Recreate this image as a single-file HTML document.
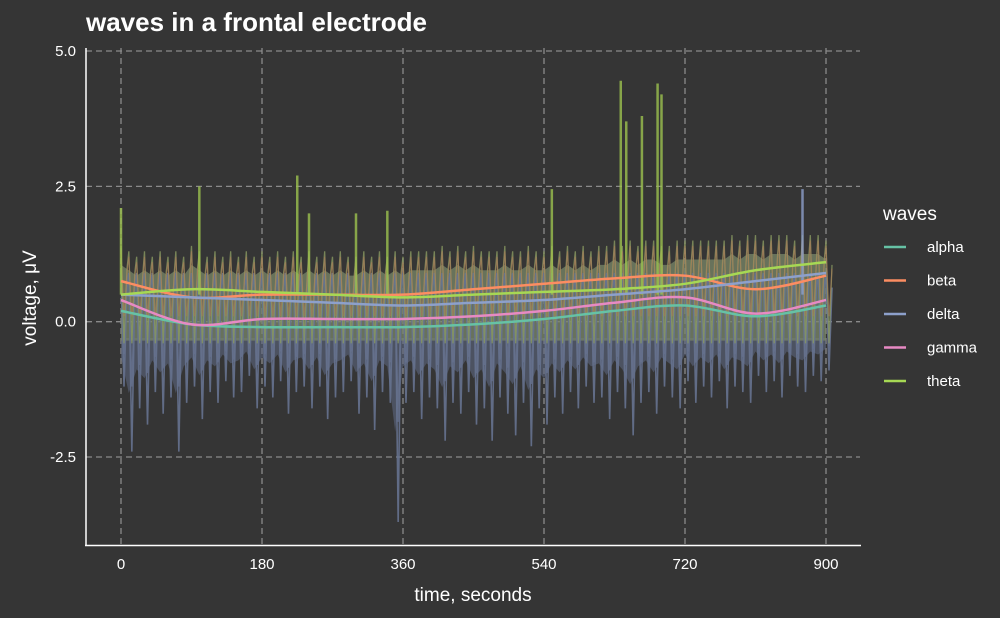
<!DOCTYPE html>
<html><head><meta charset="utf-8"><style>
html,body{margin:0;padding:0;background:#353535;}
svg{display:block;font-family:"Liberation Sans",sans-serif;}
</style></head><body>
<svg id="chart" width="1000" height="618" viewBox="0 0 1000 618">
<rect width="1000" height="618" fill="#353535"/>
<text x="86" y="31" fill="#fff" font-size="26" font-weight="bold">waves in a frontal electrode</text>
<g id="grid"></g><g id="noise"></g><g id="spikes"></g><g id="lines"></g><g id="axes"></g>
<text x="473" y="601" fill="#fff" font-size="19" text-anchor="middle">time, seconds</text>
<text transform="translate(36,298) rotate(-90)" fill="#fff" font-size="19" text-anchor="middle">voltage, μV</text>
<g id="legend">
<text x="883" y="220" fill="#fff" font-size="19">waves</text>
</g>
</svg>
<script>
const xTicks=[0,180,360,540,720,900];
const yTicks=[-2.5,0,2.5,5];
const yTickLabels=["-2.5","0.0","2.5","5.0"];
const series=["alpha","beta","delta","gamma","theta"];
const colors=["#66c2a5","#fc8d62","#8da0cb","#e78ac3","#a6d854"];
const smoothT=[0,90,180,270,360,450,540,630,720,810,900];
const alphaV=[0.2,-0.05,-0.1,-0.1,-0.1,-0.05,0.05,0.2,0.3,0.1,0.3];
const betaV=[0.75,0.45,0.5,0.5,0.5,0.6,0.7,0.8,0.85,0.6,0.85];
const deltaV=[0.5,0.45,0.4,0.35,0.3,0.35,0.4,0.5,0.6,0.75,0.9];
const gammaV=[0.4,-0.05,0.05,0.05,0.05,0.1,0.2,0.35,0.45,0.15,0.4];
const thetaV=[0.5,0.6,0.55,0.5,0.45,0.5,0.55,0.6,0.7,0.95,1.1];
const allSmooth=[alphaV,betaV,deltaV,gammaV,thetaV];
const noiseT=[];for(let t=0;t<=900;t+=10)noiseT.push(t);
const noiseHi=[1.4,1.3,1.2,1.3,1.2,1.3,1.2,1.3,1.2,1.4,1.3,1.2,1.3,1.2,1.3,1.2,1.3,1.2,1.3,1.2,1.3,1.2,1.3,1.2,1.3,1.2,1.3,1.2,1.3,1.2,1.2,1.3,1.2,1.3,1.2,1.3,1.2,1.3,1.3,1.3,1.3,1.4,1.3,1.4,1.3,1.4,1.3,1.3,1.3,1.4,1.3,1.3,1.4,1.3,1.3,1.4,1.3,1.4,1.3,1.4,1.3,1.4,1.4,1.5,1.4,1.5,1.4,1.5,1.5,1.4,1.4,1.5,1.5,1.5,1.5,1.5,1.5,1.5,1.6,1.5,1.6,1.6,1.5,1.6,1.6,1.6,1.5,1.6,1.6,1.6,1.5];
const noiseLo=[-1.2,-2.4,-1.6,-1.9,-1.3,-1.7,-1.4,-2.4,-1.5,-1.2,-1.8,-1.3,-1.5,-1.1,-1.4,-1.3,-1.0,-1.6,-1.2,-1.4,-1.1,-1.7,-1.3,-1.2,-1.6,-1.2,-1.8,-1.4,-1.3,-1.1,-1.7,-1.4,-2.0,-1.3,-1.5,-3.7,-1.5,-1.3,-1.8,-1.4,-1.6,-2.2,-1.5,-1.7,-1.3,-1.9,-1.6,-2.2,-1.4,-1.7,-2.1,-1.5,-2.3,-1.6,-1.9,-1.4,-1.7,-1.3,-1.6,-1.2,-1.5,-1.4,-1.8,-1.3,-1.6,-2.1,-1.5,-1.3,-1.7,-1.2,-1.4,-1.6,-1.1,-1.5,-1.2,-1.4,-1.1,-1.6,-1.2,-1.3,-1.5,-1.0,-1.3,-1.1,-1.4,-1.0,-1.2,-1.3,-1.0,-1.1,-0.9];
const spikeT=[0,100,225,240,300,340,550,638,645,665,685,690,870];
const spikeV=[2.1,2.5,2.7,2.0,2.0,2.05,2.45,4.45,3.7,3.8,4.4,4.2,2.45];
const X=t=>121+t*(705/900);
const Y=v=>321.7-v*(406/7.5);
const NS="http://www.w3.org/2000/svg";
function mk(tag,attrs,parent){const e=document.createElementNS(NS,tag);for(const k in attrs)e.setAttribute(k,attrs[k]);parent.appendChild(e);return e;}
const grid=document.getElementById('grid');
xTicks.forEach(t=>{const l=mk('line',{x1:X(t),x2:X(t),y1:48,y2:545,stroke:'#8a8a8a','stroke-dasharray':'6,4','stroke-width':1.3},grid);

});
yTicks.forEach(v=>{const l=mk('line',{x1:86,x2:860,y1:Y(v),y2:Y(v),stroke:'#8a8a8a','stroke-dasharray':'6,4','stroke-width':1.3},grid);

});
const noise=document.getElementById('noise');
let deltaTop='',deltaBot='';
noiseT.forEach((t,i)=>{deltaTop+=X(t)+','+Y(-0.3)+' ';});
for(let i=noiseT.length-1;i>=0;i--){deltaBot+=X(noiseT[i])+','+Y(noiseLo[i]*0.55)+' ';}
const dband=mk('polygon',{points:deltaTop+deltaBot,fill:'#5f6a85',opacity:0.55},noise);


let bandTop='',bandBot='';
noiseT.forEach((t,i)=>{bandTop+=X(t)+','+Y(noiseHi[i]-0.35)+' ';});
for(let i=noiseT.length-1;i>=0;i--){bandBot+=X(noiseT[i])+','+Y(-0.35)+' ';}
const band=mk('polygon',{points:bandTop+bandBot,fill:'#7a8768',opacity:0.75},noise);


function zig(hiFn,loFn,stroke,w,op,name){let pts='';
noiseT.forEach((t,i)=>{pts+=X(t)+','+Y(hiFn(i))+' '+(X(t)+3)+','+Y(loFn(i))+' '+(X(t)+6)+','+Y(hiFn(i)*0.7)+' ';});
const p=mk('polyline',{points:pts,fill:'none',stroke:stroke,'stroke-width':w,opacity:op},noise);

}
zig(i=>0.9,i=>noiseLo[i],'#66728f',1.6,0.9,'delta-noise');
zig(i=>0.9,i=>(noiseLo[i]*0.5),'#66728f',1.4,0.8,'delta-noise-2');
zig(i=>noiseHi[i],i=>-0.4,'#8a9a62',1.3,0.8,'theta-noise');
zig(i=>noiseHi[i]-0.1,i=>0.1,'#b07a58',1.1,0.6,'beta-noise');
const sp=document.getElementById('spikes');
spikeT.forEach((t,i)=>{const l=mk('line',{x1:X(t),x2:X(t),y1:Y(0.5),y2:Y(spikeV[i]),stroke:i==12?'#8da0cb':'#9cc24f','stroke-width':2.5,opacity:0.8},sp);

});
const lines=document.getElementById('lines');
function smoothPath(vals){const pts=smoothT.map((t,i)=>[X(t),Y(vals[i])]);let d='M'+pts[0];
for(let i=0;i<pts.length-1;i++){const p0=pts[Math.max(0,i-1)],p1=pts[i],p2=pts[i+1],p3=pts[Math.min(pts.length-1,i+2)];
d+=' C'+(p1[0]+(p2[0]-p0[0])/6)+','+(p1[1]+(p2[1]-p0[1])/6)+' '+(p2[0]-(p3[0]-p1[0])/6)+','+(p2[1]-(p3[1]-p1[1])/6)+' '+p2;}return d;}
allSmooth.forEach((vals,k)=>{const p=mk('path',{d:smoothPath(vals),fill:'none',stroke:colors[k],'stroke-width':2.5},lines);

});
const axes=document.getElementById('axes');
const ya=mk('line',{x1:86,x2:86,y1:48,y2:546,stroke:'#fff','stroke-width':1.5},axes);


const xa=mk('line',{x1:85,x2:861,y1:545.5,y2:545.5,stroke:'#fff','stroke-width':1.5},axes);


xTicks.forEach(t=>{const tx=mk('text',{x:X(t),y:569,fill:'#fff','font-size':15,'text-anchor':'middle'},axes);tx.textContent=t;

});
yTicks.forEach((v,i)=>{const tx=mk('text',{x:76,y:Y(v)+5,fill:'#fff','font-size':15,'text-anchor':'end'},axes);tx.textContent=yTickLabels[i];

});
const lg=document.getElementById('legend');
series.forEach((s,k)=>{const y=247+k*33.5;
const l=mk('line',{x1:884,x2:906,y1:y,y2:y,stroke:colors[k],'stroke-width':2.5},lg);


const t=mk('text',{x:927,y:y+5,fill:'#fff','font-size':15},lg);t.textContent=s;

});
</script>
</body></html>
